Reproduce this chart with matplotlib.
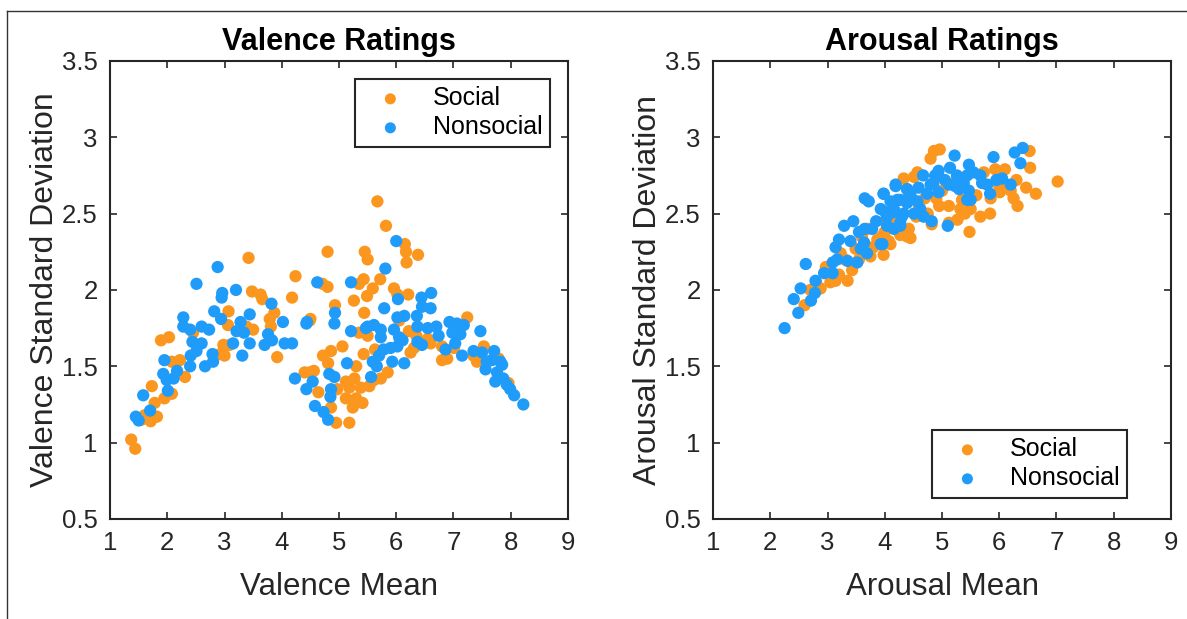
import matplotlib
matplotlib.use("Agg")
import matplotlib.pyplot as plt
from matplotlib.lines import Line2D

plt.rcParams['font.family'] = ['Liberation Sans', 'DejaVu Sans']

ORANGE = '#FB961F'
BLUE = '#1F9BFA'

# valence panel, social
val_soc = [(1.37,1.02),(1.44,0.96),(1.61,1.18),(1.71,1.14),(1.82,1.17),(1.73,1.37),(1.78,1.26),
           (1.95,1.29),(2.08,1.32),(2.31,1.43),(2.08,1.53),(2.22,1.54),(1.89,1.67),(2.03,1.69),
           (2.92,1.58),(3.00,1.57),(2.98,1.64),(3.09,1.64),(3.07,1.86),(3.06,1.77),(3.42,2.21),
           (3.48,1.99),(3.63,1.97),(3.66,1.94),(3.50,1.74),(3.38,1.76),(3.87,1.85),(3.79,1.81),
           (3.81,1.76),(3.92,1.56),(4.18,1.95),(4.24,2.09),(4.50,1.81),(4.80,2.25),(4.71,2.04),
           (4.80,2.02),(5.67,2.58),(5.82,2.42),(6.15,2.30),(6.17,2.25),(6.38,2.23),(6.18,2.18),
           (5.45,2.25),(5.50,2.20),(5.35,2.04),(5.43,2.07),(5.59,2.01),(5.72,2.07),(5.49,1.96),
           (5.26,1.93),(4.93,1.90),(5.96,2.01),(6.02,1.97),(6.21,1.97),(5.44,1.85),(4.49,1.80),
           (4.40,1.46),(4.56,1.47),(4.64,1.33),(4.95,1.13),(5.18,1.13),(4.86,1.23),(4.97,1.35),
           (5.12,1.40),(5.27,1.42),(5.18,1.36),(5.12,1.29),(5.30,1.29),(5.24,1.23),(5.41,1.26),
           (5.38,1.36),(5.53,1.37),(5.61,1.41),(5.73,1.42),(5.85,1.46),(5.30,1.50),(5.06,1.63),
           (4.86,1.60),(4.72,1.57),(4.81,1.52),(4.49,1.46),(5.43,1.58),(5.63,1.61),(6.25,1.59),
           (6.31,1.62),(5.35,1.72),(5.50,1.70),(6.22,1.73),(6.60,1.65),(6.80,1.63),(6.80,1.54),
           (6.89,1.55),(7.24,1.82),(7.01,1.62),(7.35,1.57),(7.41,1.53),(7.53,1.63),(7.79,1.55),
           (7.96,1.39),(6.35,1.70),(6.55,1.68),(6.05,1.80),(1.55,1.15),(2.45,1.72)]

# valence panel, nonsocial
val_non = [(1.45,1.17),(1.50,1.145),(1.58,1.31),(1.70,1.21),(2.01,1.34),(1.93,1.45),(1.99,1.41),
           (2.11,1.42),(2.17,1.47),(1.95,1.54),(2.40,1.50),(2.41,1.57),(2.51,1.60),(2.44,1.66),
           (2.60,1.65),(2.28,1.76),(2.28,1.82),(2.40,1.74),(2.60,1.76),(2.73,1.74),(2.66,1.50),
           (2.79,1.58),(2.80,1.53),(2.51,2.04),(2.88,2.15),(2.82,1.86),(2.94,1.81),(2.96,1.98),
           (2.95,1.95),(3.20,2.00),(3.15,1.65),(3.21,1.73),(3.28,1.79),(3.34,1.72),(3.31,1.57),
           (3.44,1.84),(3.44,1.65),(3.82,1.91),(3.76,1.71),(3.70,1.64),(3.83,1.67),(4.02,1.79),
           (4.05,1.65),(4.18,1.65),(4.23,1.42),(4.44,1.79),(4.62,2.05),(6.00,2.32),(5.81,2.14),
           (5.21,2.05),(6.03,1.94),(6.44,1.95),(6.61,1.98),(6.60,1.88),(6.45,1.89),(5.79,1.88),
           (4.93,1.85),(4.92,1.78),(4.43,1.78),(4.54,1.40),(4.43,1.35),(4.58,1.24),(4.73,1.20),
           (4.81,1.15),(4.86,1.35),(4.85,1.30),(4.83,1.45),(4.92,1.43),(5.56,1.43),(5.14,1.52),
           (5.59,1.53),(5.66,1.50),(5.70,1.57),(5.78,1.61),(5.90,1.62),(5.93,1.53),(6.02,1.63),
           (6.11,1.67),(6.14,1.52),(6.37,1.66),(6.45,1.64),(5.50,1.76),(5.61,1.77),(5.73,1.74),
           (5.73,1.69),(5.47,1.75),(5.21,1.73),(5.96,1.74),(6.02,1.82),(6.14,1.83),(6.05,1.69),
           (6.36,1.83),(6.37,1.76),(6.55,1.75),(6.70,1.76),(6.74,1.70),(6.93,1.79),(6.86,1.61),
           (6.98,1.72),(7.06,1.78),(7.18,1.77),(7.03,1.65),(7.12,1.71),(7.15,1.57),(7.47,1.73),
           (7.35,1.60),(7.50,1.59),(7.58,1.53),(7.67,1.54),(7.71,1.60),(7.56,1.48),(7.82,1.53),
           (7.85,1.51),(7.76,1.46),(7.73,1.40),(7.87,1.42),(7.93,1.38),(7.99,1.35),(8.06,1.31),
           (8.22,1.25)]

# arousal panel, social
aro_soc = [(2.88,2.01),(2.97,2.15),(3.14,2.06),(3.35,2.06),(3.43,2.13),(3.23,2.24),(3.49,2.27),
           (3.75,2.22),(3.98,2.23),(3.87,2.33),(4.33,2.73),(4.22,2.40),(4.39,2.35),(4.86,2.91),
           (4.96,2.92),(4.80,2.86),(6.53,2.91),(6.54,2.80),(7.02,2.71),(6.47,2.67),(6.64,2.63),
           (6.25,2.60),(6.32,2.55),(6.10,2.79),(5.93,2.79),(6.01,2.64),(5.84,2.50),(5.67,2.48),
           (5.73,2.77),(5.35,2.59),(5.50,2.53),(5.32,2.53),(5.12,2.55),(5.27,2.46),(5.48,2.38),
           (4.57,2.77),(4.42,2.40),(4.45,2.34),(4.27,2.36),(4.07,2.32),(4.82,2.43),(5.12,2.44),
           (4.51,2.74),(3.60,2.35),(3.80,2.28),(4.00,2.45),(4.20,2.50),(4.60,2.55),(4.70,2.60),
           (4.90,2.60),(5.00,2.65),(5.20,2.70),(4.10,2.30),(3.30,2.20),(2.70,2.00),(2.60,1.90),
           (3.05,2.05),(6.30,2.72),(6.00,2.68),(5.60,2.62),(4.40,2.60),(4.75,2.50),(3.70,2.40),
           (4.00,2.38),(3.55,2.20),(3.20,2.10),(3.65,2.30),(4.15,2.45),(4.55,2.48),(4.95,2.55),
           (5.40,2.50),(5.85,2.60),(6.20,2.65),(2.80,2.05),(3.95,2.35)]

# arousal panel, nonsocial
aro_non = [(2.25,1.75),(2.49,1.85),(2.41,1.94),(2.53,2.01),(2.71,1.93),(2.78,1.98),(2.62,2.17),
           (2.79,2.06),(2.94,2.11),(3.09,2.11),(3.09,2.18),(3.17,2.20),(3.35,2.19),(3.52,2.18),
           (3.14,2.28),(3.20,2.33),(3.29,2.42),(3.45,2.45),(3.40,2.32),(3.58,2.27),(3.69,2.24),
           (3.64,2.31),(3.65,2.40),(3.78,2.40),(3.93,2.30),(3.93,2.53),(4.04,2.48),(3.65,2.60),
           (3.72,2.58),(3.98,2.63),(4.16,2.51),(4.19,2.68),(4.30,2.48),(4.27,2.42),(4.39,2.66),
           (4.27,2.59),(5.22,2.88),(5.90,2.87),(6.27,2.90),(6.41,2.93),(6.37,2.83),(6.20,2.69),
           (6.05,2.73),(5.84,2.63),(5.67,2.75),(5.79,2.69),(5.47,2.82),(5.55,2.77),(5.44,2.75),
           (5.38,2.70),(5.47,2.65),(5.44,2.59),(5.10,2.42),(5.14,2.80),(5.26,2.75),(5.23,2.68),
           (5.12,2.69),(4.94,2.78),(4.88,2.75),(4.67,2.75),(4.19,2.69),(3.98,2.63),(4.39,2.66),
           (4.59,2.67),(4.80,2.69),(4.94,2.64),(4.74,2.63),(4.22,2.59),(4.39,2.57),(4.57,2.58),
           (4.62,2.53),(4.51,2.50),(4.68,2.48),(4.82,2.45),(4.33,2.50),(4.16,2.53),(4.01,2.51),
           (4.04,2.42),(4.16,2.40),(4.27,2.44),(3.96,2.30),(5.50,2.59),(3.85,2.45),(4.10,2.58),
           (4.45,2.62),(4.85,2.70),(5.05,2.72),(5.30,2.66),(5.70,2.70),(5.95,2.72),(3.55,2.38)]

x_ticks = [1, 2, 3, 4, 5, 6, 7, 8, 9]
y_ticks = [0.5, 1, 1.5, 2, 2.5, 3, 3.5]
y_tick_labels = ['0.5', '1', '1.5', '2', '2.5', '3', '3.5']

fig = plt.figure(figsize=(11.87, 6.19), dpi=100)

# outer frame (top and left lines only are visible)
fig.add_artist(Line2D([7/1187, 1], [1 - 11/619, 1 - 11/619], color='#333333', lw=1.0))
fig.add_artist(Line2D([7/1187, 7/1187], [0, 1 - 11/619], color='#333333', lw=1.0))

panels = [
    (0.0927, val_soc, val_non, 'Valence Ratings', 'Valence Mean',
     'Valence Standard Deviation', 'upper right', (0.9607, 0.9607)),
    (0.6007, aro_soc, aro_non, 'Arousal Ratings', 'Arousal Mean',
     'Arousal Standard Deviation', 'lower right', (0.904, 0.046)),
]

for left, soc, non, title, xl, yl, loc, anchor in panels:
    ax = fig.add_axes([left, 0.1616, 0.3858, 0.740])
    ax.scatter([p[0] for p in soc], [p[1] for p in soc], s=78, c=ORANGE,
               edgecolors='none', label='Social', zorder=2)
    ax.scatter([p[0] for p in non], [p[1] for p in non], s=78, c=BLUE,
               edgecolors='none', label='Nonsocial', zorder=3)
    ax.set_xlim(1, 9)
    ax.set_ylim(0.5, 3.5)
    ax.set_xticks(x_ticks)
    ax.set_yticks(y_ticks)
    ax.set_yticklabels(y_tick_labels)
    ax.tick_params(direction='in', length=5, width=1.2, top=True, right=True,
                   labelsize=18.5, colors='#262626', pad=9)
    for sp in ax.spines.values():
        sp.set_linewidth(1.5)
        sp.set_color('#262626')
    ax.set_title(title, fontsize=22, fontweight='bold', pad=8)
    ax.set_xlabel(xl, fontsize=22.5, color='#262626', labelpad=12)
    ax.set_ylabel(yl, fontsize=23, color='#262626', labelpad=1)
    leg = ax.legend(loc=loc, bbox_to_anchor=anchor, borderaxespad=0, fontsize=18,
                    fancybox=False, edgecolor='#262626', framealpha=1,
                    handletextpad=0.6, borderpad=0.3, labelspacing=0.2,
                    handlelength=2.2, markerscale=0.9)
    leg.get_frame().set_linewidth(1.5)

fig.savefig('out.png', dpi=100)
